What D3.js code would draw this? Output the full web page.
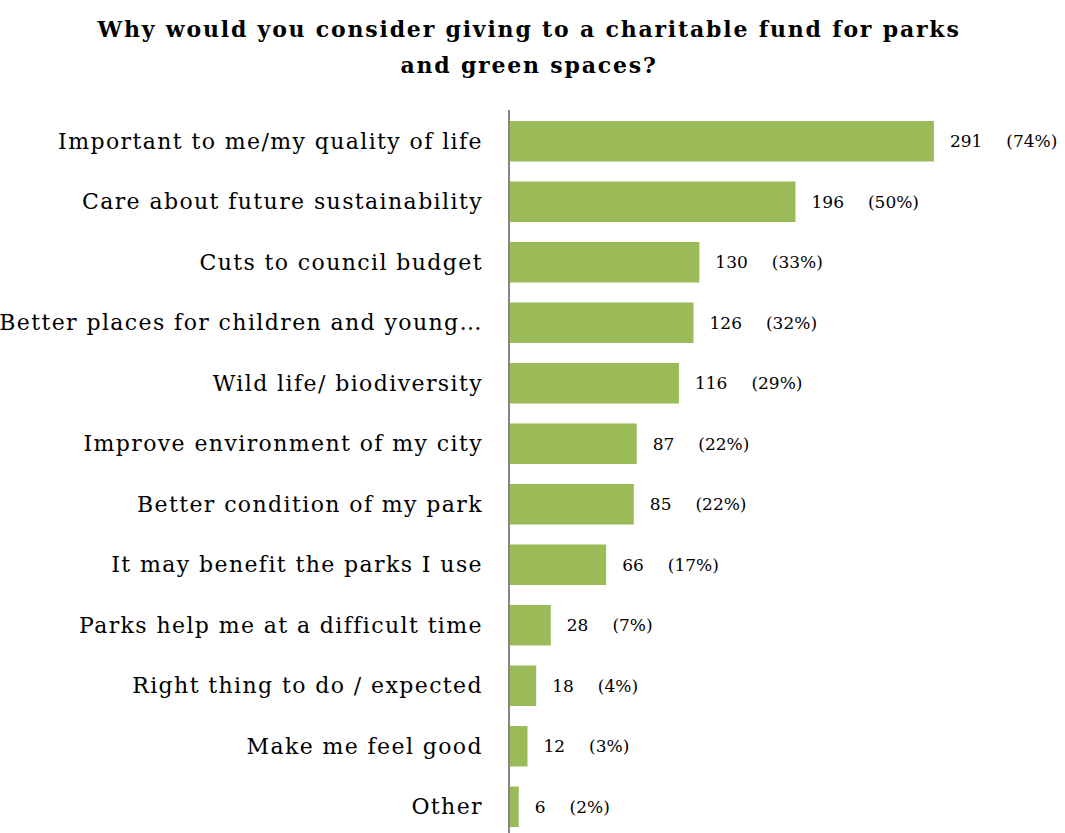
<!DOCTYPE html>
<html><head><meta charset="utf-8">
<script src="https://cdn.jsdelivr.net/npm/d3@7"></script>
<style>body{margin:0;background:#fff}</style>
</head><body>
<svg id="c" width="1065" height="833"></svg>
<script>
const categories = [
  "Important to me/my quality of life",
  "Care about future sustainability",
  "Cuts to council budget",
  "Better places for children and young…",
  "Wild life/ biodiversity",
  "Improve environment of my city",
  "Better condition of my park",
  "It may benefit the parks I use",
  "Parks help me at a difficult time",
  "Right thing to do / expected",
  "Make me feel good",
  "Other"
];
const counts = [291, 196, 130, 126, 116, 87, 85, 66, 28, 18, 12, 6];
const percents = ["74%", "50%", "33%", "32%", "29%", "22%", "22%", "17%", "7%", "4%", "3%", "2%"];
const titleLines = ["Why would you consider giving to a charitable fund for parks", "and green spaces?"];

const svg = d3.select("#c");
const x0 = 509;
const x = d3.scaleLinear().domain([0, 300]).range([x0, x0 + 437]);
const y = d3.scaleBand().domain(categories).range([111, 837]).paddingInner(0.33).paddingOuter(0.165);

svg.append("g").selectAll("text").data(titleLines).join("text")
  .attr("x", 529).attr("y", (d, i) => 37 + i * 36)
  .attr("text-anchor", "middle")
  .attr("font-family", "DejaVu Serif").attr("font-weight", "bold").attr("font-size", 22)
  .attr("letter-spacing", 1.8)
  .attr("fill", "#000").text(d => d);

svg.append("g").selectAll("rect").data(counts).join("rect")
  .attr("x", x(0) + 1).attr("y", (d, i) => y(categories[i]))
  .attr("width", d => x(d) - x(0)).attr("height", y.bandwidth())
  .attr("fill", "#9BBB59");

svg.append("g").selectAll("text").data(categories).join("text")
  .attr("x", 483).attr("y", d => y(d) + y.bandwidth() / 2)
  .attr("dy", "0.35em").attr("text-anchor", "end")
  .attr("font-family", "DejaVu Serif").attr("font-size", 22)
  .attr("letter-spacing", 1.4)
  .attr("fill", "#000").text(d => d);

const vl = svg.append("g").selectAll("text").data(counts).join("text")
  .attr("x", d => x(d) + 17).attr("y", (d, i) => y(categories[i]) + y.bandwidth() / 2)
  .attr("dy", "0.35em")
  .attr("font-family", "DejaVu Serif").attr("font-size", 17).attr("fill", "#000");
vl.append("tspan").text(d => d);
vl.append("tspan").attr("dx", 24).text((d, i) => "(" + percents[i] + ")");

svg.append("line").attr("x1", x0).attr("x2", x0).attr("y1", 110).attr("y2", 833)
  .attr("stroke", "#868686").attr("stroke-width", 2);
</script>
</body></html>
